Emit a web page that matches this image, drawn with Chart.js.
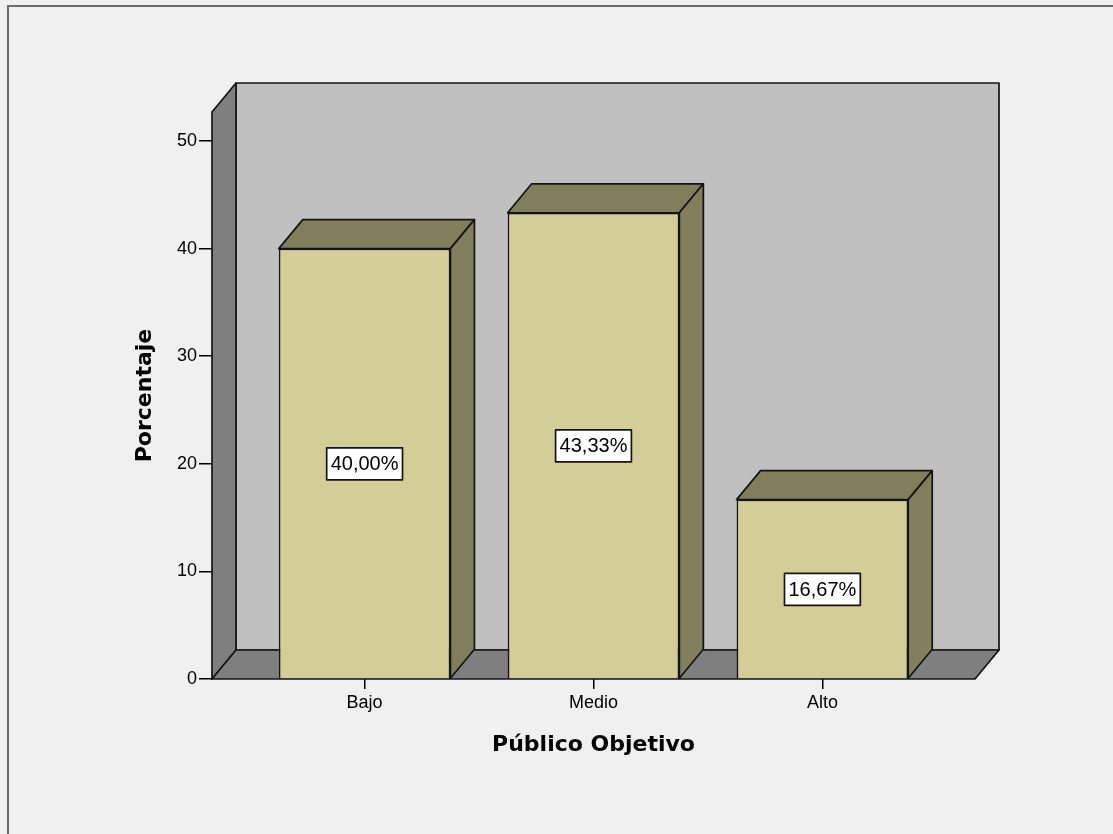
<!DOCTYPE html>
<html>
<head>
<meta charset="utf-8">
<script src="https://cdn.jsdelivr.net/npm/chart.js@4"></script>
<style>
  html, body { margin: 0; padding: 0; background: #f0f0f0; }
  canvas { display: block; }
</style>
</head>
<body>
<canvas id="chart" width="1113" height="834"></canvas>
<script>
// Público Objetivo – distribución porcentual
const categories = ['Bajo', 'Medio', 'Alto'];
const percentages = [40.00, 43.33, 16.67];
const yTicks = [0, 10, 20, 30, 40, 50];

const X_MIN = -2 / 3, X_MAX = 8 / 3;   // room on each side of the bars
const Y_MAX = 52.7;                    // top of the walls

// depth offset of the 3D box (px)
const DX = 24, DY = -29;
const EDGE_W = 1.7;

const COLORS = {
  page: '#f0f0f0',
  frame: '#6c6c6c',
  backWall: '#c0c0c0',
  sideWall: '#7f7f7f',
  barFront: '#d3ce98',
  barShade: '#817e5b',
  edge: '#141414'
};

function poly(ctx, pts, fill) {
  ctx.beginPath();
  ctx.moveTo(pts[0][0], pts[0][1]);
  for (let i = 1; i < pts.length; i++) ctx.lineTo(pts[i][0], pts[i][1]);
  ctx.closePath();
  ctx.fillStyle = fill;
  ctx.fill();
  ctx.stroke();
}

const pageFrame = {
  id: 'pageFrame',
  beforeDraw(chart) {
    const ctx = chart.ctx;
    ctx.save();
    ctx.fillStyle = COLORS.page;
    ctx.fillRect(0, 0, chart.width, chart.height);
    ctx.strokeStyle = COLORS.frame;
    ctx.lineWidth = 2;
    ctx.beginPath();
    ctx.moveTo(8, chart.height + 2);
    ctx.lineTo(8, 6);
    ctx.lineTo(chart.width + 2, 6);
    ctx.stroke();
    ctx.restore();
  }
};

const box3d = {
  id: 'box3d',
  beforeDatasetsDraw(chart) {
    const ctx = chart.ctx;
    const x = chart.scales.x, y = chart.scales.y;
    const L = x.getPixelForValue(X_MIN), R = x.getPixelForValue(X_MAX);
    const B = y.getPixelForValue(0), T = y.getPixelForValue(Y_MAX);
    ctx.save();
    ctx.lineWidth = EDGE_W;
    ctx.strokeStyle = COLORS.edge;
    ctx.lineJoin = 'round';
    // back wall
    poly(ctx, [[L + DX, T + DY], [R + DX, T + DY], [R + DX, B + DY], [L + DX, B + DY]], COLORS.backWall);
    // left wall
    poly(ctx, [[L, B], [L, T], [L + DX, T + DY], [L + DX, B + DY]], COLORS.sideWall);
    // floor
    poly(ctx, [[L, B], [R, B], [R + DX, B + DY], [L + DX, B + DY]], COLORS.sideWall);
    ctx.restore();
  },
  afterDatasetsDraw(chart) {
    const ctx = chart.ctx;
    const yScale = chart.scales.y;
    const meta = chart.getDatasetMeta(0);
    ctx.save();
    ctx.lineWidth = EDGE_W;
    ctx.strokeStyle = COLORS.edge;
    ctx.lineJoin = 'round';
    meta.data.forEach((bar, i) => {
      const p = bar.getProps(['x', 'y', 'base', 'width'], true);
      const l = p.x - p.width / 2, r = p.x + p.width / 2;
      const top = p.y, base = p.base;
      // top face
      poly(ctx, [[l, top], [l + DX, top + DY], [r + DX, top + DY], [r, top]], COLORS.barShade);
      // right face
      poly(ctx, [[r, top], [r + DX, top + DY], [r + DX, base + DY], [r, base]], COLORS.barShade);

      // value label in a white box at half height
      const v = percentages[i];
      const text = v.toFixed(2).replace('.', ',') + '%';
      ctx.font = '20px "Liberation Sans", Arial, sans-serif';
      const tw = ctx.measureText(text).width;
      const cy = yScale.getPixelForValue(v / 2);
      const bw = tw + 8, bh = 32;
      ctx.fillStyle = '#ffffff';
      ctx.fillRect(p.x - bw / 2, cy - bh / 2, bw, bh);
      ctx.strokeRect(p.x - bw / 2, cy - bh / 2, bw, bh);
      ctx.fillStyle = '#000000';
      ctx.textAlign = 'center';
      ctx.textBaseline = 'middle';
      ctx.fillText(text, p.x, cy + 1);
    });
    ctx.restore();
  }
};

new Chart(document.getElementById('chart'), {
  type: 'bar',
  data: {
    datasets: [{
      data: categories.map((c, i) => ({ x: i, y: percentages[i] })),
      backgroundColor: COLORS.barFront,
      borderColor: COLORS.edge,
      borderWidth: EDGE_W,
      barPercentage: 0.75,
      categoryPercentage: 1
    }]
  },
  options: {
    responsive: false,
    animation: false,
    devicePixelRatio: 1,
    layout: { padding: { top: 112, right: 138, left: 0, bottom: 0 } },
    plugins: { legend: { display: false }, tooltip: { enabled: false } },
    scales: {
      x: {
        type: 'linear',
        offset: false,
        min: X_MIN,
        max: X_MAX,
        afterBuildTicks(scale) {
          scale.ticks = categories.map((c, i) => ({ value: i }));
        },
        afterFit(scale) { scale.height = 155; },
        ticks: {
          callback: (v) => categories[Math.round(v)],
          color: '#000',
          padding: 3,
          maxRotation: 0,
          autoSkip: false,
          font: { family: '"Liberation Sans", Arial, sans-serif', size: 18 }
        },
        grid: { offset: false, drawOnChartArea: false, drawTicks: true, tickLength: 10, color: '#000', lineWidth: 1.5 },
        border: { display: false },
        title: {
          display: true,
          text: 'Público Objetivo',
          color: '#000',
          padding: { top: 0, bottom: 76 },
          font: { family: '"DejaVu Sans", Verdana, sans-serif', size: 22, weight: 'bold' }
        }
      },
      y: {
        min: 0,
        max: Y_MAX,
        afterBuildTicks(scale) {
          scale.ticks = yTicks.map(v => ({ value: v }));
        },
        afterFit(scale) { scale.width = 212; },
        ticks: {
          includeBounds: false,
          color: '#000',
          padding: 2,
          font: { family: '"Liberation Sans", Arial, sans-serif', size: 18 }
        },
        grid: { drawOnChartArea: false, drawTicks: true, tickLength: 13, color: '#000', lineWidth: 1.5 },
        border: { display: false },
        title: {
          display: true,
          text: 'Porcentaje',
          color: '#000',
          padding: { top: 132, bottom: 0 },
          font: { family: '"DejaVu Sans", Verdana, sans-serif', size: 22, weight: 'bold' }
        }
      }
    }
  },
  plugins: [pageFrame, box3d]
});
</script>
</body>
</html>
